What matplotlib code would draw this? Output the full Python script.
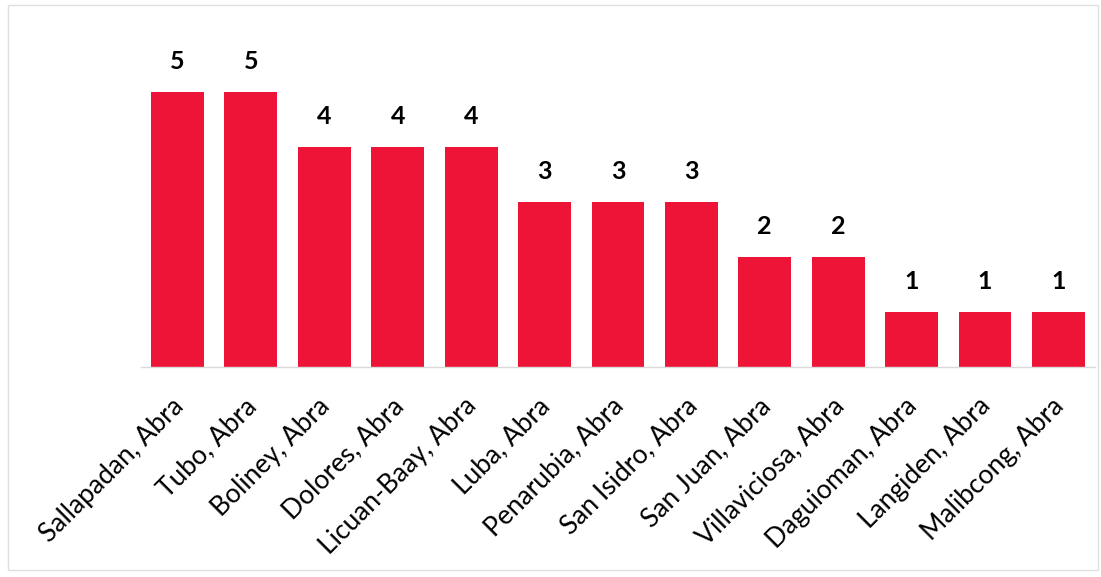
import matplotlib.pyplot as plt
import matplotlib.transforms as mtransforms
from matplotlib.patches import Rectangle

towns = ['Sallapadan, Abra', 'Tubo, Abra', 'Boliney, Abra', 'Dolores, Abra',
         'Licuan-Baay, Abra', 'Luba, Abra', 'Penarubia, Abra', 'San Isidro, Abra',
         'San Juan, Abra', 'Villaviciosa, Abra', 'Daguioman, Abra',
         'Langiden, Abra', 'Malibcong, Abra']
counts = [5, 5, 4, 4, 4, 3, 3, 3, 2, 2, 1, 1, 1]

plt.rcParams['font.family'] = ['Lato', 'DejaVu Sans']

fig = plt.figure(figsize=(11.01, 5.77), dpi=100)
ax = fig.add_axes([0.1279, 0.364, 0.8667, 0.5338])

x = list(range(len(towns)))
bars = ax.bar(x, counts, width=0.72, color='#EE1438')

for b, v in zip(bars, counts):
    ax.text(b.get_x() + b.get_width() / 2, v + 0.34, str(v),
            ha='center', va='bottom', fontsize=18, fontweight='bold', color='black')

ax.set_xlim(-0.5, len(towns) - 0.5)
ax.set_ylim(0, 5.6)
ax.set_xticks(x)
ax.set_xticklabels(towns, rotation=45, ha='right', rotation_mode='anchor',
                   fontsize=19)
ax.tick_params(axis='x', length=0, pad=19)
# nudge labels so their ends sit where the original has them
shift = mtransforms.ScaledTranslation(-7 / 100, 0, fig.dpi_scale_trans)
for lbl in ax.get_xticklabels():
    lbl.set_transform(lbl.get_transform() + shift)
ax.set_yticks([])
for s in ['top', 'right', 'left']:
    ax.spines[s].set_visible(False)
ax.spines['bottom'].set_color('#d9d9d9')
ax.spines['bottom'].set_linewidth(1)

# faint frame around the chart
fig.patches.append(Rectangle((0.007, 0.012), 0.99, 0.98, transform=fig.transFigure,
                             fill=False, edgecolor='#e0e0e0', linewidth=1))

fig.savefig('out.png', dpi=100)
